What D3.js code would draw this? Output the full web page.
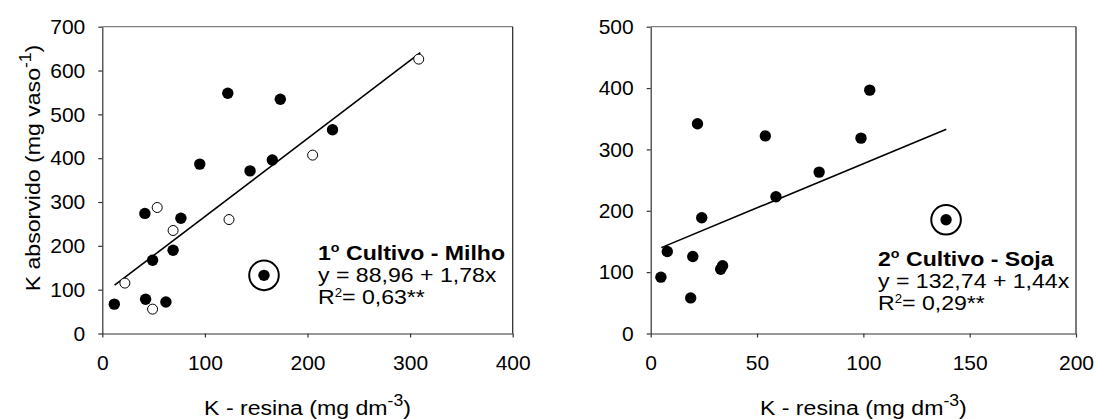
<!DOCTYPE html>
<html><head><meta charset="utf-8">
<script src="https://cdn.jsdelivr.net/npm/d3@7"></script>
<style>
body{margin:0;background:#fff}
svg{display:block}
text{font-family:"Liberation Sans",Arial,sans-serif;fill:#000}
</style>
</head><body>
<svg id="c" width="1096" height="419"></svg>
<script>
// ---- data ----
const milhoFilledX = [11.7, 41.5, 49, 42.2, 62, 69, 76.6, 95, 122.3, 144, 165.7, 173.5, 224.4];
const milhoFilledY = [67, 274, 167, 78, 72, 190, 263, 386.5, 548, 371, 395.7, 534.5, 465];
const milhoOpenX = [22, 49, 53.5, 69, 123.5, 205, 308.4];
const milhoOpenY = [115, 55.6, 287.5, 235, 260, 407, 626];
const milhoOutlier = [157.6, 132.7];
const milhoFit = {a: 88.96, b: 1.78, xMin: 12, xMax: 310};

const sojaX = [4.8, 7.8, 18.8, 19.8, 22, 24, 32.9, 33.8, 53.9, 58.9, 79.2, 98.9, 103];
const sojaY = [91.8, 133.7, 58, 125.5, 341.8, 188.6, 104.8, 110.3, 322, 222.8, 263, 318.4, 396.6];
const sojaOutlier = [138.9, 185.3];
const sojaFit = {a: 132.74, b: 1.44, xMin: 5, xMax: 139};

const milhoTicksX = [0, 100, 200, 300, 400];
const milhoTicksY = [0, 100, 200, 300, 400, 500, 600, 700];
const sojaTicksX = [0, 50, 100, 150, 200];
const sojaTicksY = [0, 100, 200, 300, 400, 500];

const milhoTitle = ["1", "o", " Cultivo - Milho"];
const milhoEq = "y = 88,96 + 1,78x";
const milhoR2 = "0,63**";
const sojaTitle = ["2", "o", " Cultivo - Soja"];
const sojaEq = "y = 132,74 + 1,44x";
const sojaR2 = "0,29**";
const xTitle = ["K - resina (mg dm", "-3", ")"];
const yTitle = ["K absorvido (mg vaso", "-1", ")"];

// ---- drawing ----
const svg = d3.select("#c");
const FS = 21, SX = 1.1;

function stext(parent, x, y, anchor, weight) {
  const g = parent.append("g").attr("transform", `translate(${x},${y}) scale(${SX},1)`);
  return g.append("text").attr("text-anchor", anchor || "start")
    .attr("font-size", FS).attr("font-weight", weight || "normal");
}

function panel(cfg) {
  const g = svg.append("g");
  const x = d3.scaleLinear().domain(cfg.xDomain).range([cfg.left, cfg.right]);
  const y = d3.scaleLinear().domain(cfg.yDomain).range([cfg.bottom, cfg.top]);

  // frame: top and right
  g.append("line").attr("x1", cfg.left).attr("x2", cfg.right).attr("y1", cfg.top).attr("y2", cfg.top)
    .attr("stroke", "#808080").attr("stroke-width", 1.2);
  g.append("line").attr("x1", cfg.right).attr("x2", cfg.right).attr("y1", cfg.top).attr("y2", cfg.bottom)
    .attr("stroke", "#222").attr("stroke-width", 1.2);

  const xa = g.append("g").attr("transform", `translate(0,${cfg.bottom})`)
    .call(d3.axisBottom(x).tickValues(cfg.xTicks).tickSize(4).tickSizeOuter(0).tickPadding(18).tickFormat(d3.format("d")));
  const ya = g.append("g").attr("transform", `translate(${cfg.left},0)`)
    .call(d3.axisLeft(y).tickValues(cfg.yTicks).tickSize(4).tickSizeOuter(0).tickPadding(13).tickFormat(d3.format("d")));
  [xa, ya].forEach(a => {
    a.attr("font-family", null).attr("font-size", null);
    a.select(".domain").attr("stroke", "#333").attr("stroke-width", 1.2);
    a.selectAll(".tick line").attr("stroke", "#333").attr("stroke-width", 1.2);
    a.selectAll(".tick text").attr("font-size", FS).attr("fill", "#000");
  });

  // regression line
  const f = cfg.fit;
  g.append("line")
    .attr("x1", x(f.xMin)).attr("y1", y(f.a + f.b * f.xMin))
    .attr("x2", x(f.xMax)).attr("y2", y(f.a + f.b * f.xMax))
    .attr("stroke", "#000").attr("stroke-width", 1.6);

  // open points
  if (cfg.openX) {
    g.selectAll("circle.open").data(d3.zip(cfg.openX, cfg.openY)).join("circle")
      .attr("class", "open").attr("cx", d => x(d[0])).attr("cy", d => y(d[1])).attr("r", 5)
      .attr("fill", "#fff").attr("stroke", "#000").attr("stroke-width", 1);
  }
  // filled points
  g.selectAll("circle.fill").data(d3.zip(cfg.fillX, cfg.fillY)).join("circle")
    .attr("class", "fill").attr("cx", d => x(d[0])).attr("cy", d => y(d[1])).attr("r", 5.7)
    .attr("fill", "#000");
  // outlier
  g.append("circle").attr("cx", x(cfg.outlier[0])).attr("cy", y(cfg.outlier[1])).attr("r", 5.7).attr("fill", "#000");
  g.append("circle").attr("cx", x(cfg.outlier[0])).attr("cy", y(cfg.outlier[1])).attr("r", 14.8)
    .attr("fill", "none").attr("stroke", "#000").attr("stroke-width", 2);

  // annotation
  const t1 = stext(g, cfg.annX, cfg.annY, "start", "bold");
  t1.append("tspan").text(cfg.title[0]);
  t1.append("tspan").attr("font-size", 13).attr("dy", -8).text(cfg.title[1]);
  t1.append("tspan").attr("dy", 8).text(cfg.title[2]);
  stext(g, cfg.annX, cfg.annY + 22).text(cfg.eq);
  const t3 = stext(g, cfg.annX, cfg.annY + 44);
  t3.append("tspan").text("R");
  t3.append("tspan").attr("font-size", 12).attr("dy", -7).text("2");
  t3.append("tspan").attr("dy", 7).text("= " + cfg.r2);

  // x title
  const xt = stext(g, (cfg.left + cfg.right) / 2, 415, "middle");
  xt.append("tspan").text(xTitle[0]);
  xt.append("tspan").attr("font-size", 16).attr("dy", -9).text(xTitle[1]);
  xt.append("tspan").attr("dy", 9).text(xTitle[2]);

  if (cfg.yTitle) {
    const yg = g.append("g").attr("transform", `translate(40,${cfg.yTitleY}) rotate(-90) scale(${SX},1)`);
    const yt = yg.append("text").attr("text-anchor", "middle").attr("font-size", FS);
    yt.append("tspan").text(yTitle[0]);
    yt.append("tspan").attr("font-size", 16).attr("dy", -9).text(yTitle[1]);
    yt.append("tspan").attr("dy", 9).text(yTitle[2]);
  }
}

panel({
  xDomain: [0, 400], yDomain: [0, 700], left: 102.3, right: 512.7, top: 26.7, bottom: 333.5,
  xTicks: milhoTicksX, yTicks: milhoTicksY, fit: milhoFit,
  fillX: milhoFilledX, fillY: milhoFilledY, openX: milhoOpenX, openY: milhoOpenY, outlier: milhoOutlier,
  title: milhoTitle, eq: milhoEq, r2: milhoR2, annX: 318, annY: 260, yTitle: true, yTitleY: 168
});
panel({
  xDomain: [0, 200], yDomain: [0, 500], left: 650.7, right: 1076, top: 26.7, bottom: 333.5,
  xTicks: sojaTicksX, yTicks: sojaTicksY, fit: sojaFit,
  fillX: sojaX, fillY: sojaY, outlier: sojaOutlier,
  title: sojaTitle, eq: sojaEq, r2: sojaR2, annX: 878, annY: 266, yTitle: false
});
</script>
</body></html>
